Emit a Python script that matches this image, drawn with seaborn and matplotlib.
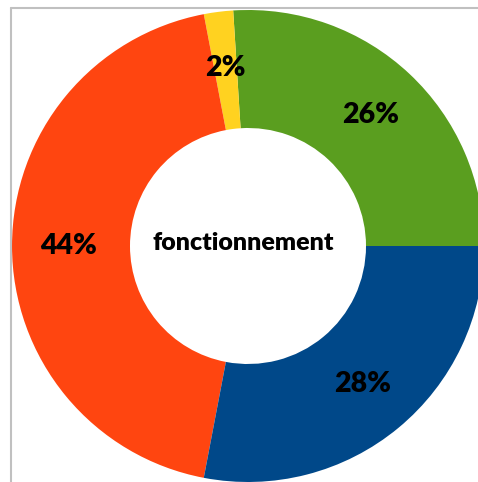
import matplotlib
matplotlib.use("Agg")
import matplotlib.pyplot as plt
import seaborn as sns
from matplotlib.lines import Line2D

categories = ["vert", "jaune", "orange", "bleu"]
values = [26, 2, 44, 28]
colors = ["#5A9E1F", "#FFD220", "#FF4510", "#004889"]
center_label = "fonctionnement"

sns.set_theme(style="white")
plt.rcParams["font.family"] = ["Lato", "DejaVu Sans"]

W, H = 478, 482
fig = plt.figure(figsize=(W / 100, H / 100), dpi=100)
ax = fig.add_axes([0, 0, 1, 1])

cx, cy, R = 248, H - 246, 236
wedges, texts, autotexts = ax.pie(
    values,
    colors=colors,
    startangle=0,
    counterclock=True,
    radius=R,
    center=(cx, cy),
    frame=True,
    autopct="%.0f%%",
    pctdistance=0.76,
    wedgeprops=dict(width=R * 0.5, linewidth=0),
    textprops=dict(fontsize=20.5, fontweight="heavy", color="black"),
)
ax.text(cx - 4.5, cy + 3, center_label, ha="center", va="center",
        fontsize=18, fontweight="heavy", color="black")

ax.set_xlim(0, W)
ax.set_ylim(0, H)
ax.set_aspect("auto")
ax.axis("off")

# chart-area frame (partially visible)
fig.add_artist(Line2D([11 / W, 11 / W], [0, 1 - 8 / H], transform=fig.transFigure,
                      color="#C0C0C0", lw=1.5))
fig.add_artist(Line2D([11 / W, 1], [1 - 8 / H, 1 - 8 / H], transform=fig.transFigure,
                      color="#C0C0C0", lw=1.5))

fig.savefig("out.png", dpi=100, facecolor="white")
